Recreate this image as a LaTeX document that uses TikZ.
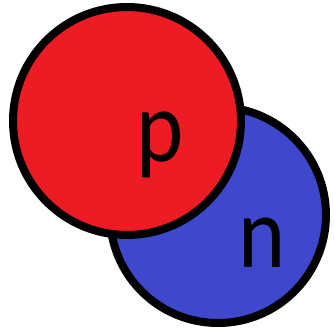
\documentclass[tikz,border=0pt]{standalone}
\usepackage{fontspec}
\setmainfont{Carlito}
\definecolor{pred}{RGB}{237,28,36}
\definecolor{nblue}{RGB}{63,72,204}
\begin{document}
\begin{tikzpicture}[x=1pt,y=1pt,
  ball/.style={draw=black,line width=8pt},
  lbl/.style={font=\fontsize{102}{102}\selectfont,anchor=base,inner sep=0pt,xscale=0.88}]
\useasboundingbox (0,0) rectangle (333,335);
\fill[white] (0,0) rectangle (333,335);
\draw[ball,fill=nblue] (218,120) circle (108);
\draw[ball,fill=pred] (127,214) circle (114);
\node[lbl] (p) at (160,173) {p};
\node[lbl] (n) at (262,67) {n};
\end{tikzpicture}
\end{document}
